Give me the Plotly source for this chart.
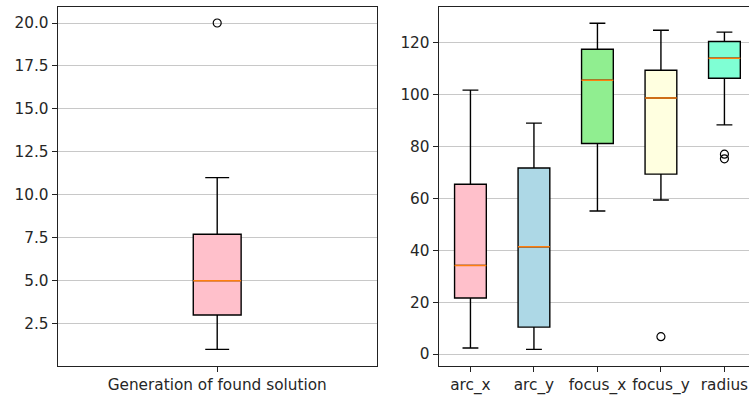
import plotly.graph_objects as go

# Left panel: generation at which a solution was found
gen_label = ["Generation of found solution"]
gen_q1 = [3.0]
gen_median = [5.0]
gen_q3 = [7.7]
gen_low = [1.0]
gen_high = [11.0]
gen_outliers = [20.0]

# Right panel: parameter distributions
params = ["arc_x", "arc_y", "focus_x", "focus_y", "radius"]
par_q1 = [21.6, 10.4, 81.2, 69.4, 106.4]
par_median = [34.2, 41.4, 105.6, 98.8, 114.1]
par_q3 = [65.5, 71.8, 117.6, 109.5, 120.6]
par_low = [2.3, 1.8, 55.2, 59.4, 88.4]
par_high = [101.8, 89.1, 127.6, 124.9, 124.2]
par_outliers = [[], [], [], [6.7], [77.1, 75.3]]
par_colors = ["#FFC0CB", "#ADD8E6", "#90EE90", "#FFFFE0", "#7FFFD4"]

W, H = 749, 398
FONT = "DejaVu Sans"
MEDIAN_COLOR = "#ff7f0e"
LINE_W = 1.4

fig = go.Figure()


def add_box(pos, q1, med, q3, lo, hi, fill, width, xa, ya, outliers):
    fig.add_trace(go.Box(
        x=[pos], q1=[q1], median=[med], q3=[q3],
        lowerfence=[lo], upperfence=[hi],
        width=width, whiskerwidth=0.5,
        fillcolor=fill, line=dict(color="black", width=LINE_W),
        boxpoints=False, xaxis=xa, yaxis=ya, showlegend=False,
        hoverinfo="skip",
    ))
    fig.add_trace(go.Scatter(
        x=[pos - width / 2, pos + width / 2], y=[med, med], mode="lines",
        line=dict(color=MEDIAN_COLOR, width=1.5),
        xaxis=xa, yaxis=ya, showlegend=False, hoverinfo="skip",
    ))
    if outliers:
        fig.add_trace(go.Scatter(
            x=[pos] * len(outliers), y=outliers, mode="markers",
            marker=dict(symbol="circle-open", size=8,
                        color="black", line=dict(color="black", width=1.2)),
            xaxis=xa, yaxis=ya, showlegend=False, hoverinfo="skip",
        ))


add_box(1, gen_q1[0], gen_median[0], gen_q3[0], gen_low[0], gen_high[0],
        "#FFC0CB", 0.15, "x", "y", gen_outliers)

for i, name in enumerate(params):
    add_box(i + 1, par_q1[i], par_median[i], par_q3[i], par_low[i], par_high[i],
            par_colors[i], 0.5, "x2", "y2", par_outliers[i])

ydom = [(H - 365.7) / H, (H - 6.7) / H]
tickfont = dict(family=FONT, size=15.3, color="#262626")

common_x = dict(showline=True, linecolor="#222222", linewidth=1.1, mirror=True,
                ticks="outside", ticklen=5, tickwidth=1.1, tickcolor="#222222",
                showgrid=False, zeroline=False, tickfont=tickfont)
common_y = dict(showline=True, linecolor="#222222", linewidth=1.1,
                ticks="outside", ticklen=5, tickwidth=1.1, tickcolor="#222222",
                showgrid=True, gridcolor="#c8c8c8", gridwidth=1,
                zeroline=False, tickfont=tickfont)

fig.update_layout(
    width=W, height=H,
    margin=dict(l=0, r=0, t=0, b=0),
    paper_bgcolor="white", plot_bgcolor="white",
    font=dict(family=FONT),
    xaxis=dict(domain=[57.7 / W, 376.7 / W], range=[0.5, 1.5],
               tickvals=[1], ticktext=gen_label, anchor="y", **common_x),
    yaxis=dict(domain=ydom, range=[0.05, 20.95], tickvals=[2.5, 5, 7.5, 10, 12.5, 15, 17.5, 20],
               tickformat=".1f", anchor="x", mirror=True, **common_y),
    xaxis2=dict(domain=[438.7 / W, 1.0], range=[0.5, 5.387],
                tickvals=[1, 2, 3, 4, 5], ticktext=params, anchor="y2", **common_x),
    yaxis2=dict(domain=ydom, range=[-4.5, 134.0], tickvals=[0, 20, 40, 60, 80, 100, 120],
                anchor="x2", mirror=False, **common_y),
)

fig.write_html("out.html")
